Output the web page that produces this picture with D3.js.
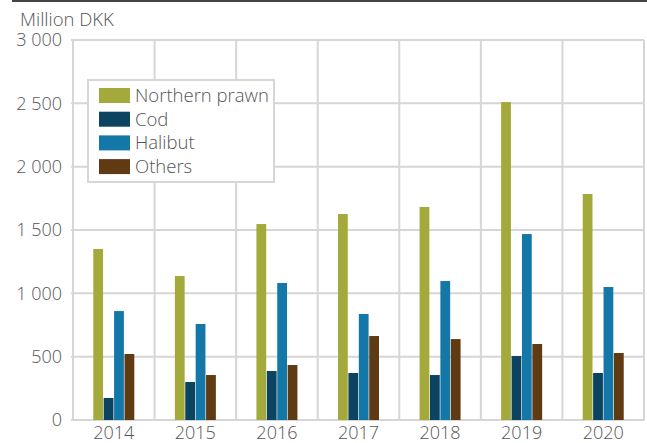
<!DOCTYPE html>
<html><head><meta charset="utf-8">
<script src="https://cdn.jsdelivr.net/npm/d3@7"></script>
<style>
body{margin:0;background:#fff;}
svg text{font-family:"Open Sans",sans-serif;font-weight:300;fill:#555;}
</style></head><body>
<svg id="c" width="647" height="443"></svg>
<script>
const years = ["2014","2015","2016","2017","2018","2019","2020"];
const seriesNames = ["Northern prawn","Cod","Halibut","Others"];
const northernPrawn = [1350,1137,1547,1626,1682,2510,1784];
const cod = [174,300,387,371,355,505,371];
const halibut = [860,758,1082,837,1097,1468,1050];
const others = [521,355,434,663,639,600,529];
const yTicks = [0,500,1000,1500,2000,2500,3000];
const colors = ["#a3a93a","#0b4360","#1377a8","#603a13"];

const values = [northernPrawn, cod, halibut, others];
const svg = d3.select("#c");
const m = {l:73, r:3, t:40, b:23};
const W = 647, H = 443;
const x0 = d3.scaleBand().domain(years).range([m.l, W-m.r]);
const x1 = d3.scaleBand().domain(seriesNames).range([0, 41]).paddingInner(0.06);
const y = d3.scaleLinear().domain([0,3000]).range([H-m.b, m.t]);
const loc = d3.formatLocale({decimal:",", thousands:" ", grouping:[3], currency:["",""]});
const fmt = loc.format(",d");

// top rule
svg.append("line").attr("x1",12).attr("x2",W).attr("y1",1).attr("y2",1)
  .attr("stroke","#444").attr("stroke-width",2);

// horizontal gridlines
const gy = svg.append("g");
gy.selectAll("line").data(yTicks).join("line")
  .attr("x1", m.l-2).attr("x2", W-m.r).attr("y1", d=>y(d)).attr("y2", d=>y(d))
  .attr("stroke","#d6d6d6").attr("stroke-width",2);
// vertical gridlines at band boundaries
const bounds = years.map(d=>x0(d)).concat([x0(years[years.length-1])+x0.bandwidth()]);
svg.append("g").selectAll("line").data(bounds).join("line")
  .attr("x1", d=>d).attr("x2", d=>d).attr("y1", m.t).attr("y2", y(0)+1)
  .attr("stroke","#d6d6d6").attr("stroke-width",2);

// y tick labels
svg.append("g").selectAll("text").data(yTicks).join("text")
  .attr("x", 62).attr("y", d=>y(d)).attr("dy","0.35em")
  .attr("text-anchor","end").attr("font-size",18).text(d=>fmt(d));

// x labels
svg.append("g").selectAll("text").data(years).join("text")
  .attr("x", d=>x0(d)+x0.bandwidth()/2).attr("y", 439)
  .attr("text-anchor","middle").attr("font-size",18).text(d=>d);

svg.append("text").attr("x",20).attr("y",26).attr("font-size",18.5).text("Million DKK");

// bars
const groupOffset = (x0.bandwidth()-41)/2;
const g = svg.append("g");
years.forEach((yr,i)=>{
  seriesNames.forEach((s,j)=>{
    const v = values[j][i];
    g.append("rect")
      .attr("x", x0(yr)+groupOffset+x1(s))
      .attr("y", y(v))
      .attr("width", x1.bandwidth())
      .attr("height", y(0)-y(v))
      .attr("fill", colors[j]);
  });
});

// legend
const lg = svg.append("g");
lg.append("rect").attr("x",88).attr("y",80).attr("width",186).attr("height",102)
  .attr("fill","#fff").attr("stroke","#d6d6d6").attr("stroke-width",2);
seriesNames.forEach((s,j)=>{
  const yy = 88 + j*23.7;
  lg.append("rect").attr("x",99).attr("y",yy).attr("width",31).attr("height",15).attr("fill",colors[j]);
  lg.append("text").attr("x",135).attr("y",yy+7.5).attr("dy","0.35em").attr("font-size",18.5).text(s);
});
</script>
</body></html>
